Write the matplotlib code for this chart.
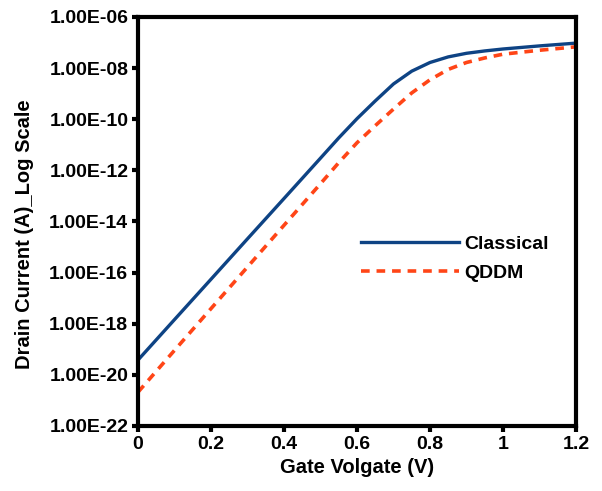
import matplotlib.pyplot as plt
import numpy as np

# Data
gate_voltage = [0.0, 0.1, 0.2, 0.3, 0.4, 0.5, 0.55, 0.6, 0.65, 0.7, 0.75, 0.8, 0.85, 0.9,
                0.95, 1.0, 1.1, 1.2]
classical = [3.8e-20, 1.45e-18, 5.5e-17, 2.1e-15, 7.9e-14, 3.0e-12, 1.86e-11, 1.05e-10,
             5.2e-10, 2.4e-9, 7.6e-9, 1.66e-8, 2.75e-8, 3.8e-8, 4.7e-8, 5.6e-8, 7.4e-8, 9.5e-8]
qddm = [2.1e-21, 9.1e-20, 3.9e-18, 1.66e-16, 7.1e-15, 3.0e-13, 2.0e-12, 1.2e-11,
        5.6e-11, 2.5e-10, 1.07e-9, 3.5e-9, 8.9e-9, 1.66e-8, 2.5e-8, 3.5e-8, 5.0e-8, 6.8e-8]

x_ticks = [0, 0.2, 0.4, 0.6, 0.8, 1, 1.2]
x_tick_labels = ['0', '0.2', '0.4', '0.6', '0.8', '1', '1.2']
y_ticks = [1e-22, 1e-20, 1e-18, 1e-16, 1e-14, 1e-12, 1e-10, 1e-8, 1e-6]
y_tick_labels = ['1.00E-22', '1.00E-20', '1.00E-18', '1.00E-16', '1.00E-14',
                 '1.00E-12', '1.00E-10', '1.00E-08', '1.00E-06']

plt.rcParams['font.family'] = ['Liberation Sans', 'DejaVu Sans']
plt.rcParams['font.weight'] = 'bold'

fig = plt.figure(figsize=(6.02, 4.91), dpi=100)
ax = fig.add_axes([0.2292, 0.1324, 0.7276, 0.833])

ax.plot(gate_voltage, classical, color='#0e4384', lw=2.4, label='Classical')
ax.plot(gate_voltage, qddm, color='#ff4517', lw=2.6, ls=(0, (2.4, 1.9)), label='QDDM')

ax.set_yscale('log')
ax.set_xlim(0, 1.2)
ax.set_ylim(1e-22, 1e-6)
ax.set_xticks(x_ticks)
ax.set_xticklabels(x_tick_labels)
ax.set_yticks(y_ticks)
ax.set_yticklabels(y_tick_labels)
ax.minorticks_off()

for s in ax.spines.values():
    s.set_linewidth(3)
ax.tick_params(direction='out', length=4, width=3, labelsize=14, pad=3,
               top=False, right=False)
for lbl in ax.get_xticklabels() + ax.get_yticklabels():
    lbl.set_fontweight('bold')

ax.set_xlabel('Gate Volgate (V)', fontsize=14.5, fontweight='bold', labelpad=4)
ax.set_ylabel('Drain Current (A)_Log Scale', fontsize=14.5, fontweight='bold')
ax.yaxis.set_label_coords(-0.238, 0.47)

ax.legend(loc='upper left', bbox_to_anchor=(0.47, 0.51), frameon=False,
          handlelength=5.0, handletextpad=0.3, labelspacing=0.6,
          prop={'weight': 'bold', 'size': 14})

plt.savefig('out.png', dpi=100)
plt.close()
